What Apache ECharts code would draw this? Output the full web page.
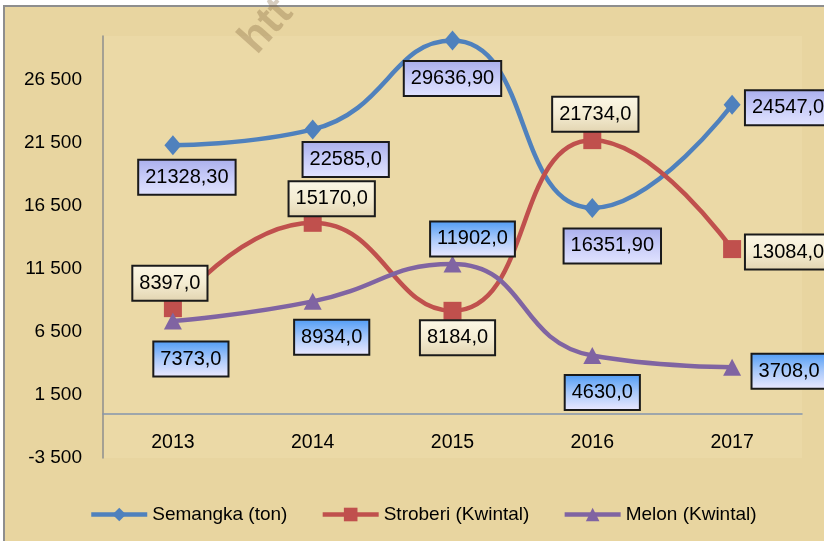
<!DOCTYPE html>
<html>
<head>
<meta charset="utf-8">
<script src="https://cdn.jsdelivr.net/npm/echarts@6/dist/echarts.min.js"></script>
<style>
  html, body { margin: 0; padding: 0; background: #ffffff; }
  #main { width: 824px; height: 541px; }
</style>
</head>
<body>
<div id="main"></div>
<script type="text/javascript">
  // data
  var years = ['2013', '2014', '2015', '2016', '2017'];
  var semangka = [21328.30, 22585.0, 29636.90, 16351.90, 24547.0];
  var stroberi = [8397.0, 15170.0, 8184.0, 21734.0, 13084.0];
  var melon = [7373.0, 8934.0, 11902.0, 4630.0, 3708.0];
  var seriesNames = ['Semangka (ton)', 'Stroberi (Kwintal)', 'Melon (Kwintal)'];
  var yTicks = { min: -3500, max: 30000, step: 5000 };

  // label placement (offset of the label box from its point)
  var semangkaOffsets = [[14, 32], [33, 30], [0, 38], [20, 38], [56, 3]];
  var stroberiOffsets = [[-3, -25], [19, -24], [5, 27], [3, -26], [56, 3]];
  var melonOffsets = [[18, 38], [19, 36], [20, -25], [10, 37], [57, 4]];

  var font = "'Liberation Sans', Arial, sans-serif";

  function grad(top, mid, bottom) {
    return new echarts.graphic.LinearGradient(0, 0, 0, 1, [
      { offset: 0, color: top },
      { offset: 0.5, color: mid },
      { offset: 1, color: bottom }
    ]);
  }

  function fmtComma(v, decimals) {
    return v.toFixed(decimals).replace('.', ',');
  }

  function spaced(v) {
    var s = String(Math.abs(v));
    s = s.replace(/\B(?=(\d{3})+(?!\d))/g, ' ');
    return (v < 0 ? '-' : '') + s;
  }

  function makeData(values, offsets, decimals) {
    return values.map(function (v, i) {
      return {
        value: v,
        label: { offset: offsets[i], formatter: fmtComma(v, decimals[i]) }
      };
    });
  }

  function labelStyle(bg) {
    return {
      show: true,
      position: 'inside',
      color: '#000',
      fontSize: 20,
      lineHeight: 22,
      fontFamily: font,
      backgroundColor: bg,
      borderColor: '#1a1a1a',
      borderWidth: 2,
      padding: [6, 6, 5, 6]
    };
  }

  var myChart = echarts.init(document.getElementById('main'));
  var option = {
    backgroundColor: '#ffffff',
    animation: false,
    textStyle: { fontFamily: font },
    color: ['#4f81bd', '#c0504d', '#8064a2'],
    graphic: [
      {
        type: 'rect',
        z: -10,
        shape: { x: 4, y: 6, width: 840, height: 560 },
        style: { fill: '#e8d5a0', stroke: '#8e8e8e', lineWidth: 2 }
      },
      {
        type: 'text',
        z: 100,
        x: 264,
        y: 62,
        rotation: 0.84,
        style: {
          text: 'htt',
          fontSize: 44,
          fontWeight: 'bold',
          fontFamily: font,
          align: 'left',
          verticalAlign: 'bottom',
          fill: 'rgba(130, 100, 60, 0.33)'
        }
      }
    ],
    grid: {
      left: 103,
      top: 36,
      right: 22,
      bottom: 83,
      show: true,
      backgroundColor: '#ebd9a6',
      borderWidth: 0
    },
    legend: {
      left: 84,
      top: 500,
      itemWidth: 56,
      itemHeight: 17,
      itemGap: 33,
      lineStyle: { width: 4.5 },
      textStyle: { fontSize: 19, color: '#000', fontFamily: font },
      data: seriesNames
    },
    xAxis: {
      type: 'category',
      data: years,
      axisLine: { onZero: true, lineStyle: { color: '#8595ad', width: 1.5 } },
      axisTick: { show: false },
      axisLabel: { margin: -25, fontSize: 19.5, color: '#000', fontFamily: font }
    },
    yAxis: {
      type: 'value',
      min: yTicks.min,
      max: yTicks.max,
      interval: yTicks.step,
      splitLine: { show: false },
      axisLine: { show: true, lineStyle: { color: '#8e8e8e', width: 1.5 } },
      axisTick: { show: false },
      axisLabel: {
        margin: 21,
        fontSize: 19,
        color: '#000',
        fontFamily: font,
        showMaxLabel: false,
        formatter: function (v) {
          return v === yTicks.max ? '' : spaced(v);
        }
      }
    },
    series: [
      {
        name: seriesNames[0],
        type: 'line',
        smooth: true,
        symbol: 'diamond',
        symbolSize: [17, 20],
        lineStyle: { width: 4.5 },
        label: labelStyle(grad('#a9aeec', '#c8ccf8', '#e2e4ff')),
        data: makeData(semangka, semangkaOffsets, [2, 1, 2, 2, 1])
      },
      {
        name: seriesNames[1],
        type: 'line',
        smooth: true,
        symbol: 'rect',
        symbolSize: 18,
        lineStyle: { width: 4.5 },
        label: labelStyle(grad('#fcf7e6', '#f4ecd2', '#e2d4b0')),
        data: makeData(stroberi, stroberiOffsets, [1, 1, 1, 1, 1])
      },
      {
        name: seriesNames[2],
        type: 'line',
        smooth: true,
        symbol: 'triangle',
        symbolSize: [18, 17],
        lineStyle: { width: 4.5 },
        label: labelStyle(grad('#4e9bf5', '#a9c9fa', '#eeeaff')),
        data: makeData(melon, melonOffsets, [1, 1, 1, 1, 1])
      }
    ]
  };
  myChart.setOption(option);
</script>
</body>
</html>
